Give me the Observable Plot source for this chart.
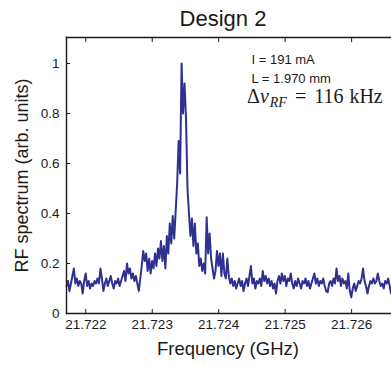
<!DOCTYPE html>
<html><head><meta charset="utf-8">
<script src="https://cdn.jsdelivr.net/npm/d3@7"></script>
<script src="https://cdn.jsdelivr.net/npm/@observablehq/plot@0.6"></script>
<style>body{margin:0;background:#fff} svg{display:block}</style>
</head><body><div id="chart"></div>
<script>
// Sampling grid of the spectrum analyser trace (GHz)
const freqStart = 21.72171;
const freqStep = 0.0000222;
// RF spectrum values (arb. units)
const rfSpectrum = [
  0.11,0.13,0.09,0.12,0.15,0.18,0.12,0.14,0.11,0.13,
  0.12,0.08,0.13,0.16,0.11,0.13,0.10,0.12,0.11,0.13,
  0.12,0.14,0.12,0.18,0.14,0.09,0.12,0.14,0.11,0.13,
  0.15,0.12,0.10,0.13,0.12,0.14,0.11,0.13,0.15,0.17,
  0.13,0.20,0.16,0.18,0.14,0.16,0.13,0.15,0.12,0.09,
  0.14,0.19,0.25,0.21,0.24,0.17,0.22,0.16,0.21,0.18,
  0.24,0.19,0.26,0.22,0.29,0.21,0.27,0.18,0.31,0.24,
  0.36,0.28,0.39,0.30,0.41,0.52,0.69,0.56,1.00,0.80,
  0.92,0.78,0.50,0.40,0.31,0.38,0.27,0.36,0.24,0.28,
  0.19,0.22,0.17,0.20,0.16,0.385,0.24,0.32,0.22,0.18,
  0.14,0.17,0.25,0.19,0.24,0.15,0.24,0.16,0.14,0.22,
  0.15,0.12,0.14,0.11,0.13,0.10,0.12,0.14,0.11,0.13,
  0.09,0.12,0.14,0.11,0.15,0.19,0.12,0.14,0.10,0.13,
  0.12,0.14,0.11,0.17,0.13,0.15,0.12,0.14,0.11,0.13,
  0.10,0.12,0.08,0.13,0.15,0.12,0.16,0.13,0.15,0.11,
  0.14,0.13,0.16,0.12,0.10,0.13,0.11,0.14,0.12,0.10,
  0.13,0.12,0.14,0.11,0.13,0.10,0.12,0.14,0.16,0.12,
  0.14,0.11,0.13,0.12,0.14,0.11,0.09,0.085,0.12,0.13,
  0.11,0.14,0.12,0.18,0.13,0.15,0.11,0.14,0.12,0.13,
  0.10,0.16,0.09,0.065,0.10,0.12,0.09,0.11,0.13,0.12,
  0.14,0.18,0.13,0.11,0.08,0.11,0.13,0.12,0.14,0.12,
  0.13,0.16,0.13,0.11,0.12,0.10,0.13,0.12,0.14,0.11,
  0.08
];
const xTicks = [21.722, 21.723, 21.724, 21.725, 21.726];
const yTicks = [0, 0.2, 0.4, 0.6, 0.8, 1];
const xDomain = [21.72171, 21.7266];
const yDomain = [0, 1.104];
const titleText = "Design 2";
const xLabel = "Frequency (GHz)";
const yLabel = "RF spectrum (arb. units)";
const currentText = "I = 191 mA";
const lengthText = "L = 1.970 mm";

const data = rfSpectrum.map((v, i) => ({f: freqStart + i * freqStep, v}));
const ink = "#1a1a1a";
const sans = "'Liberation Sans', Arial, Helvetica, sans-serif";

const chart = Plot.plot({
  width: 391,
  height: 366,
  marginLeft: 66,
  marginRight: 0,
  marginTop: 37,
  marginBottom: 53,
  style: {fontFamily: sans, fontSize: "13.5px", color: ink, background: "#fff"},
  x: {domain: xDomain},
  y: {domain: yDomain},
  marks: [
    Plot.line(data, {x: "f", y: "v", stroke: "#2e3192", strokeWidth: 2}),
    Plot.frame({anchor: "left", stroke: ink, strokeWidth: 1.4}),
    Plot.frame({anchor: "bottom", stroke: ink, strokeWidth: 1.4}),
    Plot.frame({anchor: "top", stroke: ink, strokeWidth: 1.4}),
    Plot.axisX({ticks: xTicks, anchor: "bottom", tickSize: -4, tickPadding: 10, label: null,
      tickFormat: d3.format(".3f"), stroke: ink, fill: ink}),
    Plot.axisX({ticks: xTicks, anchor: "top", tickSize: -4, label: null, tickFormat: () => "", stroke: ink}),
    Plot.axisY({ticks: yTicks, anchor: "left", tickSize: -4, tickPadding: 11, label: null,
      tickFormat: d => String(d), stroke: ink, fill: ink}),
    Plot.text([titleText], {frameAnchor: "top", lineAnchor: "bottom", dx: -6, dy: -12, fontSize: 22, fill: ink}),
    Plot.text([xLabel], {frameAnchor: "bottom", lineAnchor: "bottom", dx: -1, dy: 41, fontSize: 18.5, fill: ink}),
    Plot.text([yLabel], {frameAnchor: "left", textAnchor: "middle", lineAnchor: "bottom", rotate: -90, dx: -39, dy: 0, fontSize: 18, fill: ink}),
    Plot.text([currentText], {frameAnchor: "top-left", textAnchor: "start", lineAnchor: "bottom",
      dx: 185, dy: 26, fontSize: 13, fill: ink}),
    Plot.text([lengthText], {frameAnchor: "top-left", textAnchor: "start", lineAnchor: "bottom",
      dx: 185, dy: 45, fontSize: 13, fill: ink})
  ]
});

// Δν_RF = 116 kHz (math-style annotation)
const m = d3.select(chart).append("text")
  .attr("x", 66 + 181).attr("y", 37 + 66)
  .attr("text-anchor", "start")
  .attr("font-family", "'Liberation Serif', 'Times New Roman', serif")
  .attr("font-size", 20).attr("fill", ink);
m.append("tspan").text("Δ");
m.append("tspan").attr("font-style", "italic").text("ν");
m.append("tspan").attr("font-style", "italic").attr("font-size", 14).attr("dy", 4).attr("dx", 1).text("RF");
m.append("tspan").attr("dy", -4).attr("dx", 8).text("=");
m.append("tspan").attr("dx", 8).text("116");
m.append("tspan").attr("dx", 6).text("kHz");

document.getElementById("chart").appendChild(chart);
</script>
</body></html>
